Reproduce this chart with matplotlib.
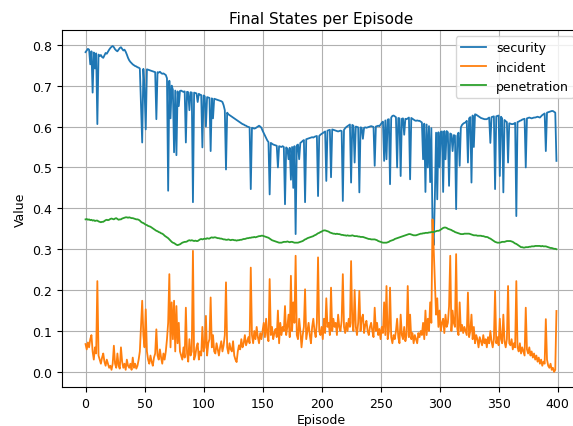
import numpy as np
import matplotlib
matplotlib.use("Agg")
import matplotlib.pyplot as plt

# valores (un valor por episodio, 0..399)
security = [
    0.782, 0.786, 0.790, 0.788, 0.752, 0.784, 0.683, 0.781, 0.742, 0.779, 0.606, 0.776, 0.772, 0.775, 0.770, 0.768, 0.774, 0.780, 0.778, 0.783,
    0.788, 0.792, 0.795, 0.797, 0.794, 0.789, 0.786, 0.784, 0.788, 0.792, 0.794, 0.790, 0.786, 0.788, 0.783, 0.776, 0.768, 0.762, 0.758, 0.755,
    0.752, 0.750, 0.748, 0.747, 0.745, 0.744, 0.742, 0.655, 0.561, 0.741, 0.690, 0.593, 0.740, 0.739, 0.738, 0.737, 0.736, 0.735, 0.734, 0.733,
    0.618, 0.733, 0.732, 0.734, 0.731, 0.729, 0.730, 0.728, 0.726, 0.718, 0.443, 0.712, 0.620, 0.700, 0.690, 0.537, 0.688, 0.530, 0.686, 0.650,
    0.687, 0.688, 0.686, 0.685, 0.686, 0.561, 0.685, 0.684, 0.640, 0.684, 0.683, 0.415, 0.683, 0.682, 0.681, 0.660, 0.680, 0.678, 0.677, 0.549,
    0.676, 0.674, 0.600, 0.672, 0.671, 0.670, 0.540, 0.669, 0.620, 0.668, 0.667, 0.666, 0.665, 0.664, 0.663, 0.662, 0.660, 0.652, 0.640, 0.495,
    0.634, 0.630, 0.628, 0.626, 0.624, 0.622, 0.620, 0.618, 0.616, 0.614, 0.612, 0.610, 0.608, 0.606, 0.605, 0.603, 0.602, 0.600, 0.599, 0.598,
    0.447, 0.597, 0.596, 0.595, 0.596, 0.598, 0.600, 0.602, 0.600, 0.597, 0.590, 0.584, 0.578, 0.572, 0.566, 0.562, 0.434, 0.560, 0.558, 0.556,
    0.555, 0.554, 0.553, 0.500, 0.552, 0.551, 0.550, 0.552, 0.550, 0.410, 0.549, 0.546, 0.520, 0.548, 0.470, 0.550, 0.450, 0.552, 0.337, 0.554,
    0.556, 0.520, 0.560, 0.562, 0.565, 0.567, 0.415, 0.569, 0.570, 0.571, 0.572, 0.573, 0.574, 0.573, 0.575, 0.576, 0.577, 0.430, 0.577, 0.580,
    0.582, 0.584, 0.586, 0.588, 0.467, 0.590, 0.591, 0.592, 0.476, 0.593, 0.592, 0.591, 0.590, 0.589, 0.588, 0.589, 0.590, 0.589, 0.418, 0.592,
    0.596, 0.599, 0.601, 0.603, 0.605, 0.463, 0.604, 0.602, 0.512, 0.600, 0.599, 0.598, 0.439, 0.598, 0.597, 0.570, 0.597, 0.598, 0.597, 0.598,
    0.599, 0.600, 0.601, 0.600, 0.599, 0.504, 0.600, 0.601, 0.602, 0.601, 0.605, 0.609, 0.612, 0.516, 0.615, 0.520, 0.617, 0.618, 0.459, 0.622,
    0.626, 0.627, 0.625, 0.623, 0.500, 0.621, 0.620, 0.479, 0.619, 0.620, 0.580, 0.619, 0.618, 0.620, 0.622, 0.471, 0.621, 0.619, 0.617, 0.615,
    0.614, 0.615, 0.614, 0.614, 0.612, 0.610, 0.520, 0.607, 0.440, 0.605, 0.500, 0.601, 0.464, 0.596, 0.349, 0.310, 0.430, 0.585, 0.422, 0.586,
    0.500, 0.587, 0.588, 0.440, 0.589, 0.520, 0.589, 0.586, 0.455, 0.583, 0.581, 0.540, 0.579, 0.578, 0.398, 0.577, 0.585, 0.504, 0.598, 0.604,
    0.607, 0.609, 0.610, 0.614, 0.512, 0.620, 0.623, 0.463, 0.627, 0.550, 0.630, 0.629, 0.627, 0.625, 0.623, 0.621, 0.620, 0.619, 0.618, 0.618,
    0.618, 0.620, 0.622, 0.560, 0.623, 0.624, 0.625, 0.447, 0.625, 0.626, 0.627, 0.479, 0.624, 0.620, 0.439, 0.616, 0.613, 0.611, 0.512, 0.608,
    0.607, 0.606, 0.606, 0.607, 0.609, 0.381, 0.611, 0.612, 0.614, 0.615, 0.617, 0.618, 0.619, 0.500, 0.620, 0.621, 0.622, 0.621, 0.620, 0.621,
    0.622, 0.622, 0.623, 0.624, 0.623, 0.622, 0.625, 0.628, 0.630, 0.632, 0.540, 0.634, 0.635, 0.636, 0.637, 0.638, 0.638, 0.636, 0.634, 0.516,
]

incident = [
    0.068, 0.055, 0.072, 0.060, 0.080, 0.090, 0.050, 0.030, 0.060, 0.045, 0.222, 0.040, 0.030, 0.020, 0.035, 0.045, 0.025, 0.015, 0.030, 0.020,
    0.010, 0.015, 0.005, 0.020, 0.064, 0.020, 0.010, 0.045, 0.015, 0.008, 0.060, 0.025, 0.010, 0.020, 0.005, 0.030, 0.015, 0.010, 0.020, 0.005,
    0.035, 0.010, 0.020, 0.008, 0.015, 0.030, 0.050, 0.110, 0.174, 0.090, 0.060, 0.153, 0.050, 0.030, 0.020, 0.040, 0.025, 0.015, 0.035, 0.045,
    0.104, 0.040, 0.030, 0.055, 0.035, 0.020, 0.045, 0.030, 0.050, 0.080, 0.120, 0.239, 0.060, 0.170, 0.080, 0.174, 0.050, 0.161, 0.070, 0.120,
    0.050, 0.040, 0.030, 0.060, 0.035, 0.157, 0.045, 0.025, 0.080, 0.040, 0.050, 0.296, 0.030, 0.040, 0.060, 0.070, 0.030, 0.050, 0.040, 0.110,
    0.050, 0.060, 0.137, 0.040, 0.070, 0.080, 0.182, 0.060, 0.090, 0.050, 0.045, 0.070, 0.055, 0.040, 0.060, 0.075, 0.050, 0.065, 0.090, 0.219,
    0.060, 0.045, 0.070, 0.055, 0.050, 0.075, 0.040, 0.030, 0.024, 0.050, 0.065, 0.055, 0.080, 0.060, 0.070, 0.090, 0.065, 0.075, 0.085, 0.070,
    0.255, 0.090, 0.070, 0.100, 0.080, 0.110, 0.085, 0.070, 0.095, 0.080, 0.100, 0.120, 0.085, 0.130, 0.090, 0.075, 0.227, 0.090, 0.110, 0.080,
    0.095, 0.105, 0.085, 0.150, 0.070, 0.120, 0.090, 0.110, 0.100, 0.161, 0.090, 0.110, 0.140, 0.085, 0.235, 0.100, 0.170, 0.120, 0.284, 0.090,
    0.080, 0.130, 0.100, 0.060, 0.090, 0.110, 0.202, 0.080, 0.100, 0.120, 0.090, 0.070, 0.110, 0.130, 0.100, 0.085, 0.120, 0.280, 0.100, 0.090,
    0.110, 0.080, 0.130, 0.095, 0.180, 0.110, 0.120, 0.090, 0.206, 0.100, 0.130, 0.110, 0.120, 0.090, 0.140, 0.110, 0.100, 0.125, 0.239, 0.110,
    0.095, 0.120, 0.100, 0.130, 0.110, 0.271, 0.120, 0.100, 0.200, 0.110, 0.090, 0.120, 0.198, 0.100, 0.130, 0.140, 0.095, 0.115, 0.125, 0.100,
    0.090, 0.110, 0.120, 0.100, 0.085, 0.157, 0.100, 0.120, 0.090, 0.105, 0.080, 0.110, 0.095, 0.170, 0.090, 0.210, 0.080, 0.100, 0.206, 0.085,
    0.070, 0.090, 0.080, 0.100, 0.130, 0.085, 0.070, 0.140, 0.090, 0.080, 0.110, 0.075, 0.090, 0.210, 0.085, 0.140, 0.080, 0.095, 0.070, 0.090,
    0.080, 0.070, 0.095, 0.085, 0.100, 0.090, 0.120, 0.080, 0.150, 0.090, 0.130, 0.100, 0.170, 0.120, 0.373, 0.300, 0.220, 0.140, 0.180, 0.110,
    0.150, 0.100, 0.120, 0.130, 0.095, 0.140, 0.110, 0.120, 0.160, 0.284, 0.100, 0.150, 0.120, 0.110, 0.288, 0.105, 0.090, 0.170, 0.100, 0.115,
    0.095, 0.110, 0.100, 0.090, 0.194, 0.085, 0.100, 0.140, 0.080, 0.110, 0.070, 0.090, 0.080, 0.060, 0.085, 0.075, 0.065, 0.090, 0.070, 0.080,
    0.060, 0.085, 0.070, 0.100, 0.075, 0.060, 0.080, 0.198, 0.070, 0.085, 0.065, 0.130, 0.080, 0.070, 0.140, 0.075, 0.060, 0.080, 0.210, 0.070,
    0.065, 0.080, 0.055, 0.070, 0.060, 0.222, 0.060, 0.050, 0.070, 0.045, 0.060, 0.050, 0.040, 0.157, 0.055, 0.045, 0.060, 0.040, 0.050, 0.035,
    0.045, 0.030, 0.040, 0.025, 0.035, 0.020, 0.030, 0.015, 0.025, 0.020, 0.129, 0.030, 0.015, 0.010, 0.020, 0.005, 0.010, 0.000, 0.005, 0.149,
]

penetration = [
    0.373, 0.374, 0.372, 0.373, 0.371, 0.372, 0.370, 0.371, 0.369, 0.370, 0.370, 0.368, 0.367, 0.366, 0.367, 0.367, 0.369, 0.371, 0.372, 0.371,
    0.372, 0.374, 0.375, 0.374, 0.373, 0.375, 0.376, 0.374, 0.372, 0.373, 0.373, 0.375, 0.376, 0.377, 0.378, 0.378, 0.377, 0.378, 0.377, 0.376,
    0.376, 0.375, 0.374, 0.373, 0.373, 0.372, 0.370, 0.367, 0.365, 0.364, 0.362, 0.360, 0.359, 0.357, 0.356, 0.355, 0.353, 0.351, 0.349, 0.347,
    0.345, 0.344, 0.342, 0.341, 0.339, 0.338, 0.336, 0.333, 0.331, 0.329, 0.327, 0.324, 0.321, 0.318, 0.316, 0.315, 0.313, 0.311, 0.310, 0.311,
    0.312, 0.314, 0.316, 0.317, 0.318, 0.318, 0.319, 0.321, 0.322, 0.321, 0.322, 0.321, 0.320, 0.321, 0.320, 0.320, 0.322, 0.324, 0.325, 0.324,
    0.325, 0.326, 0.325, 0.327, 0.326, 0.326, 0.328, 0.329, 0.328, 0.329, 0.329, 0.328, 0.327, 0.327, 0.326, 0.326, 0.325, 0.324, 0.324, 0.323,
    0.323, 0.324, 0.323, 0.322, 0.323, 0.323, 0.322, 0.322, 0.321, 0.322, 0.322, 0.323, 0.323, 0.324, 0.325, 0.325, 0.326, 0.327, 0.327, 0.328,
    0.328, 0.329, 0.329, 0.330, 0.329, 0.330, 0.331, 0.332, 0.332, 0.333, 0.333, 0.332, 0.331, 0.330, 0.329, 0.328, 0.326, 0.324, 0.322, 0.321,
    0.320, 0.319, 0.318, 0.317, 0.316, 0.316, 0.316, 0.317, 0.318, 0.318, 0.318, 0.319, 0.318, 0.317, 0.318, 0.318, 0.317, 0.316, 0.316, 0.316,
    0.316, 0.317, 0.318, 0.319, 0.320, 0.322, 0.324, 0.325, 0.327, 0.328, 0.329, 0.330, 0.331, 0.332, 0.334, 0.335, 0.337, 0.339, 0.340, 0.342,
    0.343, 0.345, 0.346, 0.346, 0.345, 0.344, 0.343, 0.341, 0.340, 0.339, 0.338, 0.338, 0.337, 0.338, 0.337, 0.337, 0.336, 0.335, 0.335, 0.334,
    0.334, 0.333, 0.334, 0.333, 0.333, 0.333, 0.334, 0.333, 0.332, 0.332, 0.332, 0.331, 0.331, 0.330, 0.330, 0.330, 0.329, 0.328, 0.327, 0.326,
    0.325, 0.325, 0.324, 0.324, 0.324, 0.324, 0.323, 0.322, 0.320, 0.319, 0.318, 0.317, 0.316, 0.316, 0.316, 0.316, 0.317, 0.318, 0.320, 0.321,
    0.322, 0.323, 0.325, 0.326, 0.327, 0.328, 0.329, 0.330, 0.331, 0.332, 0.333, 0.334, 0.335, 0.336, 0.337, 0.337, 0.336, 0.335, 0.334, 0.334,
    0.334, 0.335, 0.336, 0.337, 0.338, 0.338, 0.339, 0.339, 0.340, 0.340, 0.340, 0.341, 0.341, 0.342, 0.342, 0.342, 0.343, 0.344, 0.345, 0.345,
    0.346, 0.348, 0.350, 0.352, 0.353, 0.353, 0.352, 0.350, 0.349, 0.348, 0.347, 0.345, 0.344, 0.342, 0.341, 0.340, 0.339, 0.338, 0.337, 0.337,
    0.337, 0.338, 0.338, 0.338, 0.338, 0.338, 0.337, 0.336, 0.335, 0.334, 0.334, 0.334, 0.333, 0.333, 0.333, 0.333, 0.332, 0.332, 0.331, 0.330,
    0.330, 0.329, 0.327, 0.326, 0.324, 0.322, 0.320, 0.318, 0.317, 0.316, 0.316, 0.316, 0.317, 0.318, 0.318, 0.318, 0.319, 0.320, 0.320, 0.320,
    0.320, 0.319, 0.318, 0.316, 0.314, 0.313, 0.311, 0.309, 0.307, 0.305, 0.305, 0.304, 0.304, 0.305, 0.305, 0.305, 0.306, 0.306, 0.307, 0.307,
    0.307, 0.308, 0.308, 0.308, 0.308, 0.308, 0.307, 0.308, 0.307, 0.307, 0.307, 0.306, 0.305, 0.304, 0.303, 0.303, 0.302, 0.301, 0.301, 0.300,
]

episodes = np.arange(len(security))

fig = plt.figure(figsize=(5.73, 4.27), dpi=100)
# los ejes se salen un poco por la derecha, como en la captura original
ax = fig.add_axes([0.1082, 0.0913, 0.904, 0.836])

ax.plot(episodes, security, label="security", linewidth=1.3)
ax.plot(episodes, incident, label="incident", linewidth=1.3)
ax.plot(episodes, penetration, label="penetration", linewidth=1.3)

ax.set_xlim(-19.95, 418.95)
ax.set_ylim(-0.037, 0.836)
ax.set_title("Final States per Episode", fontsize=11, pad=5)
ax.set_xlabel("Episode", fontsize=9, labelpad=2)
ax.set_ylabel("Value", fontsize=9, labelpad=4)
ax.tick_params(labelsize=9)
ax.legend(loc="upper right", fontsize=9)
ax.grid(True)

fig.savefig("out.png", dpi=100)
